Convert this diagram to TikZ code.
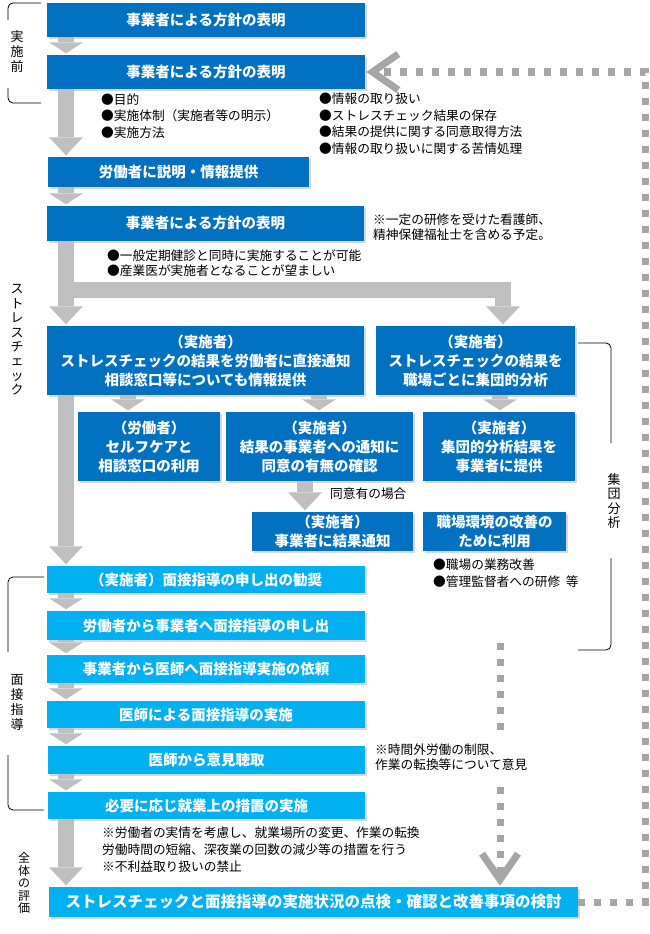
\documentclass[tikz,border=0pt]{standalone}
\usepackage{fontspec}
\setmainfont{Noto Sans CJK JP}
\usepackage{xcolor}
\usetikzlibrary{arrows.meta,shadows,positioning,calc}

\definecolor{darkblue}{HTML}{0070C0}
\definecolor{lightblue}{HTML}{00B0F0}
\definecolor{arrowgray}{HTML}{BFBFBF}
\definecolor{dashgray}{HTML}{A6A6A6}

\tikzset{
    darkbox/.style={fill=darkblue,text=white,align=center,inner sep=0pt,
        font=\bfseries\fontsize{14.5}{19}\selectfont,
        drop shadow={shadow xshift=2pt,shadow yshift=-2pt,opacity=0.3}},
    lightbox/.style={darkbox,fill=lightblue},
    garrow/.style={draw=arrowgray,line width=16pt,shorten >=1.5pt,
        -{Triangle[length=11pt,width=34pt,line width=0pt]}},
    glong/.style={garrow,-{Triangle[length=18pt,width=34pt,line width=0pt]}},
    dashline/.style={draw=dashgray,line width=7pt,dash pattern=on 7pt off 9pt,
        shorten >=1pt,-{Straight Barb[length=26pt,width=36pt,line width=7pt]}},
    notetext/.style={font=\fontsize{12.7}{16.5}\selectfont,align=left,anchor=west,inner sep=0pt},
    sidelabel/.style={font=\fontsize{13}{15}\selectfont,align=center,inner sep=0pt},
    bracketline/.style={draw=black,line width=0.8pt,rounded corners=5pt}
}

\begin{document}
\begin{tikzpicture}[x=1pt,y=-1pt]
    \useasboundingbox (0,0) rectangle (650,934);

    % Columns for the gray arrows
    \coordinate (cL) at (66,0);
    \coordinate (cA) at (128,0);
    \coordinate (cB) at (319,0);
    \coordinate (cC) at (500,0);
    \coordinate (cD) at (305,0);
    \coordinate (cR) at (503,0);
    \coordinate (fork) at (66,290);

    % Before implementation
    \node[darkbox,minimum width=318pt,minimum height=34pt] (b1) at (206,20) {事業者による方針の表明};
    \node[darkbox,minimum width=318pt,minimum height=34pt] (b2) at (206,72) {事業者による方針の表明};
    \node[notetext] (n1) at (101,116) {●目的\\●実施体制（実施者等の明示）\\●実施方法};
    \node[notetext] (n2) at (319,123.5) {●情報の取り扱い\\●ストレスチェック結果の保存\\●結果の提供に関する同意取得方法\\●情報の取り扱いに関する苦情処理};

    % Stress check
    \node[darkbox,minimum width=261pt,minimum height=30pt] (b3) at (178.5,172) {労働者に説明・情報提供};
    \node[darkbox,minimum width=317pt,minimum height=35pt] (b4) at (205.5,223.5) {事業者による方針の表明};
    \node[notetext,font=\fontsize{12.7}{15}\selectfont] (n3) at (373,227.5) {※一定の研修を受けた看護師、\\精神保健福祉士を含める予定。};
    \node[notetext,font=\fontsize{12.7}{15}\selectfont] (n4) at (107,263.5) {●一般定期健診と同時に実施することが可能\\●産業医が実施者となることが望ましい};

    \node[darkbox,minimum width=317pt,minimum height=69pt] (b5) at (205.5,360.5) {（実施者）\\ストレスチェックの結果を労働者に直接通知\\相談窓口等についても情報提供};
    \node[darkbox,minimum width=199pt,minimum height=69pt] (b6) at (475.5,360.5) {（実施者）\\ストレスチェックの結果を\\職場ごとに集団的分析};

    \node[darkbox,minimum width=142pt,minimum height=69pt] (bA) at (149,446.5) {（労働者）\\セルフケアと\\相談窓口の利用};
    \node[darkbox,minimum width=187pt,minimum height=69pt] (bB) at (319.5,446.5) {（実施者）\\結果の事業者への通知に\\同意の有無の確認};
    \node[darkbox,minimum width=152pt,minimum height=69pt] (bC) at (499,446.5) {（実施者）\\集団的分析結果を\\事業者に提供};

    \node[notetext] (n5) at (330,494) {同意有の場合};
    \node[darkbox,minimum width=161pt,minimum height=39pt] (bD) at (332.5,531.5) {（実施者）\\事業者に結果通知};
    \node[darkbox,minimum width=143pt,minimum height=39pt] (bE) at (494.5,531.5) {職場環境の改善の\\ために利用};
    \node[notetext,font=\fontsize{12.7}{17}\selectfont] (n6) at (433,573.5) {●職場の業務改善\\●管理監督者への研修\ \ 等};

    % Interview guidance
    \node[lightbox,minimum width=318pt,minimum height=27pt] (b7) at (206,579.5) {（実施者）面接指導の申し出の勧奨};
    \node[lightbox,minimum width=318pt,minimum height=29pt] (b8) at (206,625.5) {労働者から事業者へ面接指導の申し出};
    \node[lightbox,minimum width=318pt,minimum height=28pt] (b9) at (206,669) {事業者から医師へ面接指導実施の依頼};
    \node[lightbox,minimum width=318pt,minimum height=27pt] (b10) at (206,714.5) {医師による面接指導の実施};
    \node[lightbox,minimum width=317pt,minimum height=28pt] (b11) at (206.5,760) {医師から意見聴取};
    \node[lightbox,minimum width=317pt,minimum height=27pt] (b12) at (206.5,805.5) {必要に応じ就業上の措置の実施};
    \node[notetext,font=\fontsize{12.7}{17}\selectfont] (n8) at (102,850) {※労働者の実情を考慮し、就業場所の変更、作業の転換\\労働時間の短縮、深夜業の回数の減少等の措置を行う\\※不利益取り扱いの禁止};

    % Overall evaluation
    \node[lightbox,minimum width=529pt,minimum height=30pt,font=\bfseries\fontsize{15.5}{19}\selectfont] (b13) at (313.5,902) {ストレスチェックと面接指導の実施状況の点検・確認と改善事項の検討};

    % Side labels and brackets
    \node[sidelabel] (lpre) at (17,52) {実\\施\\前};
    \node[sidelabel,font=\fontsize{13}{14.4}\selectfont] (lsc) at (17,340) {ス\\ト\\レ\\ス\\チ\\ェ\\ッ\\ク};
    \node[sidelabel] (lmen) at (17,702) {面\\接\\指\\導};
    \node[sidelabel,font=\fontsize{12}{12.5}\selectfont] (lall) at (24,883) {全\\体\\の\\評\\価};
    \node[sidelabel,font=\fontsize{13}{14.3}\selectfont] (lgrp) at (614,501) {集\\団\\分\\析};
    \draw[bracketline] (41,3) -| (8,20);
    \draw[bracketline] (8,88) |- (41,103);
    \draw[bracketline] (44,577) -| (8,652);
    \draw[bracketline] (8,755) |- (44,810);
    \draw[bracketline] (578,343) -| (611,443);
    \draw[bracketline] (611,558) |- (578,650);

    % Gray arrows
    \draw[garrow] (b1.south -| cL) -- (b2.north -| cL);
    \draw[glong] (b2.south -| cL) -- (b3.north -| cL);
    \draw[garrow] (b3.south -| cL) -- (b4.north -| cL);
    \draw[glong] (b4.south -| cL) -- (b5.north -| cL);
    \draw[glong] (fork) -| (b6.north -| cR);
    \draw[garrow] (b5.south -| cA) -- (bA.north -| cA);
    \draw[garrow] (b5.south -| cB) -- (bB.north -| cB);
    \draw[garrow] (b6.south -| cC) -- (bC.north -| cC);
    \draw[glong] (bB.south -| cD) -- (bD.north -| cD);
    \draw[glong] (b5.south -| cL) -- (b7.north -| cL);
    \draw[garrow] (b7.south -| cL) -- (b8.north -| cL);
    \draw[garrow] (b8.south -| cL) -- (b9.north -| cL);
    \draw[garrow] (b9.south -| cL) -- (b10.north -| cL);
    \draw[garrow] (b10.south -| cL) -- (b11.north -| cL);
    \draw[garrow] (b11.south -| cL) -- (b12.north -| cL);
    \draw[glong] (b12.south -| cL) -- (b13.north -| cL);

    % Feedback loops
    \coordinate (fbR) at (645.5,72);
    \coordinate (fs) at (500,643);
    \draw[dashline] (b13.east) -| (fbR) -- (b2.east);
    \draw[dashline] (fs) -- (fs |- b13.north);
    \node[notetext,font=\fontsize{12.7}{15}\selectfont,fill=white,inner ysep=10pt] (n7) at (375,757.5) {※時間外労働の制限、\\作業の転換等について意見};
\end{tikzpicture}
\end{document}
